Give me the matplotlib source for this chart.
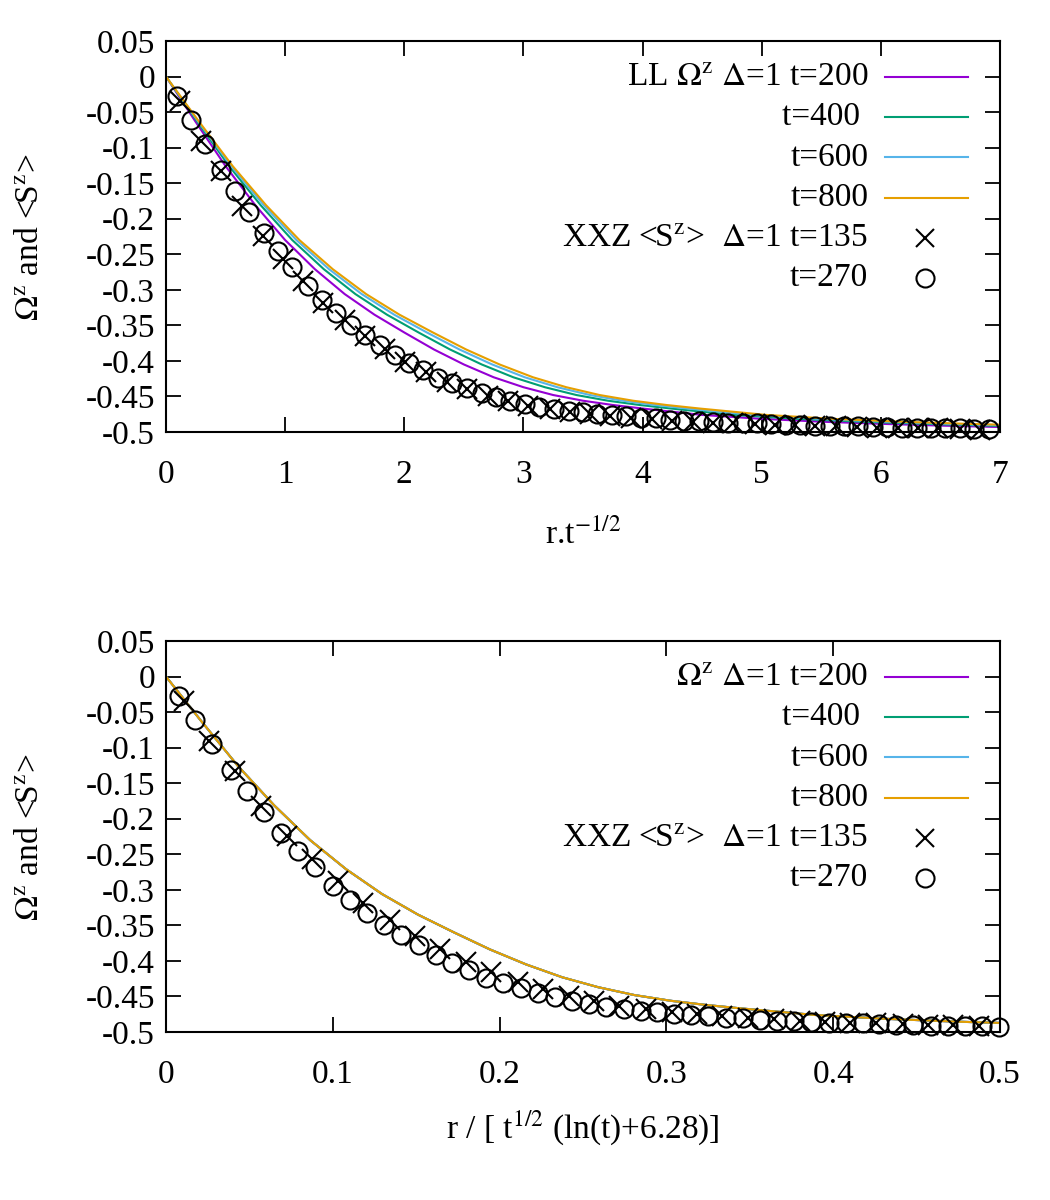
import numpy as np
import matplotlib
matplotlib.use("Agg")
import matplotlib.pyplot as plt
from matplotlib.ticker import FuncFormatter

plt.rcParams["font.family"] = ["Liberation Serif", "DejaVu Serif"]
plt.rcParams["mathtext.fontset"] = "stix"
plt.rcParams["axes.unicode_minus"] = False

# ---- LL solutions Omega^z: x (in r.t^-1/2) where each curve reaches LL_LEVELS
LL_TIMES = [200, 400, 600, 800]
LL_COLORS = ["#9400d3", "#009e73", "#56b4e9", "#e69f00"]
LL_LEVELS = [0, -0.064, -0.126, -0.181, -0.230, -0.271, -0.306, -0.335,
             -0.360, -0.384, -0.405, -0.423, -0.437, -0.448, -0.456, -0.462,
             -0.467, -0.476, -0.4815, -0.4855, -0.4885, -0.491, -0.493]
LL_X_T200 = [0, 0.25, 0.5, 0.75, 1.0, 1.25, 1.5, 1.75, 2.0, 2.25, 2.5, 2.75,
             3.0, 3.25, 3.5, 3.75, 4.0, 4.5, 5.0, 5.5, 6.0, 6.5, 7.0]
LL_X_T400 = [0, 0.265, 0.53, 0.795, 1.06, 1.325, 1.59, 1.855, 2.12, 2.385,
             2.65, 2.915, 3.18, 3.445, 3.71, 3.975, 4.24, 4.77, 5.30, 5.83,
             6.36, 6.89, 7.42]
LL_X_T600 = [0, 0.274, 0.548, 0.821, 1.095, 1.369, 1.643, 1.916, 2.19, 2.464,
             2.738, 3.011, 3.285, 3.559, 3.833, 4.106, 4.38, 4.928, 5.475,
             6.023, 6.57, 7.118, 7.665]
LL_X_T800 = [0, 0.28, 0.56, 0.84, 1.12, 1.40, 1.68, 1.96, 2.24, 2.52, 2.80,
             3.08, 3.36, 3.64, 3.92, 4.20, 4.48, 5.04, 5.60, 6.16, 6.72, 7.28,
             7.84]
LL_XS = [LL_X_T200, LL_X_T400, LL_X_T600, LL_X_T800]

# ---- XXZ <S^z>, Delta=1, positions in r.t^-1/2
XXZ_X135 = [0.12, 0.29, 0.46, 0.64, 0.81, 0.98, 1.15, 1.32, 1.50, 1.67,
            1.84, 2.01, 2.18, 2.36, 2.53, 2.70, 2.87, 3.04, 3.22, 3.39,
            3.56, 3.73, 3.90, 4.08, 4.25, 4.42, 4.59, 4.76, 4.94, 5.11,
            5.28, 5.45, 5.62, 5.80, 5.97, 6.14, 6.31, 6.48, 6.66, 6.83]
XXZ_S135 = [-0.035, -0.090, -0.133, -0.182, -0.224, -0.256, -0.287, -0.318,
            -0.343, -0.365, -0.383, -0.401, -0.416, -0.430, -0.440, -0.449,
            -0.457, -0.463, -0.468, -0.472, -0.475, -0.477, -0.480, -0.482,
            -0.484, -0.486, -0.487, -0.488, -0.489, -0.490, -0.490, -0.491,
            -0.492, -0.493, -0.494, -0.494, -0.495, -0.495, -0.496, -0.497]
XXZ_X270 = [0.09, 0.21, 0.33, 0.46, 0.58, 0.70, 0.82, 0.94, 1.06, 1.19,
            1.31, 1.43, 1.55, 1.67, 1.80, 1.92, 2.04, 2.16, 2.28, 2.40,
            2.53, 2.65, 2.77, 2.89, 3.01, 3.13, 3.26, 3.38, 3.50, 3.62,
            3.74, 3.86, 3.99, 4.11, 4.23, 4.35, 4.47, 4.59, 4.72, 4.84,
            4.96, 5.08, 5.20, 5.32, 5.45, 5.57, 5.69, 5.81, 5.93, 6.05,
            6.18, 6.30, 6.42, 6.54, 6.66, 6.78, 6.91]
XXZ_S270 = [-0.027, -0.061, -0.095, -0.131, -0.161, -0.190, -0.220, -0.246,
            -0.268, -0.294, -0.315, -0.333, -0.349, -0.364, -0.378, -0.391,
            -0.403, -0.413, -0.424, -0.431, -0.438, -0.445, -0.451, -0.457,
            -0.461, -0.465, -0.468, -0.471, -0.472, -0.474, -0.476, -0.478,
            -0.480, -0.481, -0.483, -0.484, -0.485, -0.486, -0.487, -0.488,
            -0.488, -0.489, -0.490, -0.490, -0.491, -0.491, -0.492, -0.492,
            -0.493, -0.493, -0.494, -0.494, -0.495, -0.495, -0.495, -0.496,
            -0.496]
LOG_SHIFT = 6.28

Y_TICKS = [0.05, 0, -0.05, -0.1, -0.15, -0.2, -0.25, -0.3, -0.35, -0.4,
           -0.45, -0.5]
X_TICKS_TOP = [0, 1, 2, 3, 4, 5, 6, 7]
X_TICKS_BOT = [0, 0.1, 0.2, 0.3, 0.4, 0.5]

FS = 24
YLABEL = r"$\Omega^{\mathrm{z}}$ and <S$^{\mathrm{z}}$>"


def scale(x, t, rescaled):
    x = np.asarray(x, dtype=float)
    return x / (np.log(t) + LOG_SHIFT) if rescaled else x


def draw_key(ax, first_label):
    rows = [first_label, "t=400 ", "t=600", "t=800",
            r"XXZ <S$^{\mathrm{z}}$>  $\Delta$=1 t=135", "t=270"]
    y0, dy = 0.908, 0.1028
    for i, lab in enumerate(rows):
        y = y0 - i * dy
        ax.text(0.842, y, lab, transform=ax.transAxes, ha="right",
                va="center", fontsize=FS)
        if i < 4:
            ax.plot([0.862, 0.962], [y, y], transform=ax.transAxes,
                    color=LL_COLORS[i], lw=1.5, clip_on=False)
        else:
            ax.plot([0.910], [y], transform=ax.transAxes, ls="none",
                    marker="x" if i == 4 else "o", mfc="none", mec="black",
                    ms=13, mew=1.5, clip_on=False)


def panel(ax, rescaled, xmax, xticks, xlabel, xlab_y, first_label):
    for t, xs, c in zip(LL_TIMES, LL_XS, LL_COLORS):
        ax.plot(scale(xs, t, rescaled), LL_LEVELS, color=c, lw=1.5)
    for xs, ys, t, mk, ms in [(XXZ_X135, XXZ_S135, 135, "x", 15),
                              (XXZ_X270, XXZ_S270, 270, "o", 13)]:
        xx = scale(xs, t, rescaled)
        keep = xx <= xmax
        ax.plot(xx[keep], np.asarray(ys)[keep], ls="none", marker=mk,
                mfc="none", mec="black", ms=ms, mew=1.5, clip_on=False)
    ax.set_xlim(0, xmax)
    ax.set_ylim(-0.5, 0.05)
    ax.set_xticks(xticks)
    ax.set_yticks(Y_TICKS)
    fmt = FuncFormatter(lambda v, p: "%g" % round(v, 3))
    ax.xaxis.set_major_formatter(fmt)
    ax.yaxis.set_major_formatter(fmt)
    ax.tick_params(direction="in", length=11, width=1.3, top=True,
                   right=True, labelsize=FS)
    ax.tick_params(axis="x", pad=20)
    ax.tick_params(axis="y", pad=8)
    for s in ax.spines.values():
        s.set_linewidth(1.5)
    ax.set_xlabel(xlabel, fontsize=FS)
    ax.xaxis.set_label_coords(0.5, xlab_y)
    ax.set_ylabel(YLABEL, fontsize=FS)
    ax.yaxis.set_label_coords(-0.145, 0.5)
    draw_key(ax, first_label)


fig = plt.figure(figsize=(10.5, 12), dpi=100)
ax1 = fig.add_axes([0.1581, 0.64, 0.7943, 0.3258])
ax2 = fig.add_axes([0.1581, 0.14, 0.7943, 0.3258])

panel(ax1, False, 7, X_TICKS_TOP, r"r.t$^{-1/2}$", -0.222,
      r"LL $\Omega^{\mathrm{z}}$ $\Delta$=1 t=200")
panel(ax2, True, 0.5, X_TICKS_BOT, r"r / [ t$^{1/2}$ (ln(t)+6.28)]", -0.195,
      r"$\Omega^{\mathrm{z}}$ $\Delta$=1 t=200")

fig.savefig("out.png", dpi=100)
